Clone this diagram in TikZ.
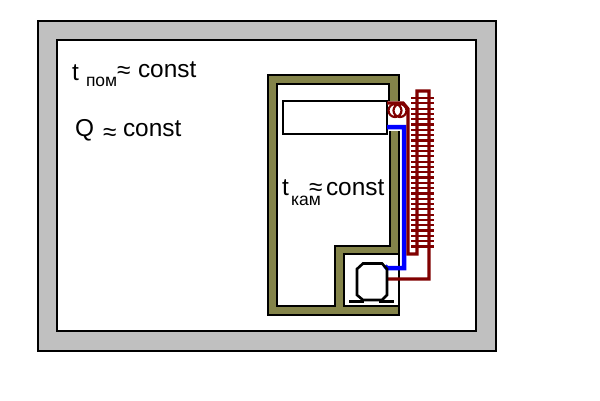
\documentclass[tikz,border=0pt]{standalone}
\usepackage{fontspec}
\setmainfont{Liberation Sans}
\definecolor{wallolive}{HTML}{84844A}
\definecolor{roomgrey}{HTML}{C0C0C0}
\definecolor{pipebrown}{HTML}{800000}
\definecolor{pipeblue}{HTML}{0000FF}
\newcommand{\bigtxt}{\fontsize{24.4}{26}\selectfont}
\newcommand{\subtxt}{\fontsize{17.5}{19}\selectfont}
\tikzset{
  x=1pt,y=-1pt,
  blk/.style={draw=black,line width=2.6pt,line join=miter},
  txt/.style={anchor=base west,inner sep=0pt,outer sep=0pt,text=black},
  hotpipe/.style={draw=pipebrown,line width=3.4pt},
  coldpipe/.style={draw=pipeblue,line width=4.5pt},
  fin/.style={draw=pipebrown,line width=2.2pt},
}
\begin{document}
\begin{tikzpicture}
\useasboundingbox (0,0) rectangle (600,400);
\fill[white] (0,0) rectangle (600,400);
% room
\draw[blk,line width=2pt,fill=roomgrey] (37.5,20.5) rectangle (496,351);
\draw[blk,line width=2.4pt,fill=white] (57,40) rectangle (476,331);
% chamber walls
\fill[wallolive] (268,75) -- (399,75) -- (399,101) -- (389,101) -- (389,84) -- (277,84) -- (277,306) -- (335,306) -- (335,246) -- (390,246) -- (390,131) -- (399,131) -- (399,254) -- (344,254) -- (344,306) -- (399,306) -- (399,315) -- (268,315) -- cycle;
\draw[blk] (389,101) -- (389,84) -- (277,84) -- (277,306) -- (335,306) -- (335,246) -- (390,246) -- (390,131);
\draw[blk] (399,101) -- (399,75) -- (268,75) -- (268,315) -- (399,315) -- (399,254) -- (344,254) -- (344,306) -- (399,306);
\draw[blk] (399,131) -- (399,254);
% evaporator
\draw[blk,fill=white] (283,101) rectangle (387,134);
% fan
\draw[pipebrown,line width=2.2pt] (395,110.5) circle (6.5) (400,110.5) circle (6.5);
% pipes
\draw[coldpipe] (387,127) -- (404,127) -- (404,268) -- (387,268) -- (385,266);
\draw[hotpipe] (387,103) -- (403,103) -- (408,109) -- (408,254) -- (417,254) -- (417,91) -- (429,91) -- (429,279) -- (387,279);
\foreach \yy in {98,103.3,...,250}{\draw[fin] (411,\yy) -- (434,\yy);}
% compressor
\draw[blk] (363,263.5) -- (382,263.5) -- (387,269) -- (387,295) -- (382,300) -- (363,300) -- (357,295) -- (357,269) -- cycle;
\draw[blk,line width=3pt] (349,301) -- (364,301) (379,301) -- (394,301);
% texts
\node[txt] (t1) at (72,80) {\bigtxt t};
\node[txt] (s1) at (86,86) {\subtxt пом};
\node[txt] (a1) at (117,78) {\bigtxt ≈};
\node[txt] (c1) at (138,77) {\bigtxt const};
\node[txt] (q) at (75,136) {\bigtxt Q};
\node[txt] (a2) at (103,140) {\bigtxt ≈};
\node[txt] (c2) at (123,136) {\bigtxt const};
\node[txt] (t3) at (282,195) {\bigtxt t};
\node[txt] (s3) at (291,205) {\subtxt кам};
\node[txt] (a3) at (309,195) {\bigtxt ≈};
\node[txt] (c3) at (326,195) {\bigtxt const};
\end{tikzpicture}
\end{document}
